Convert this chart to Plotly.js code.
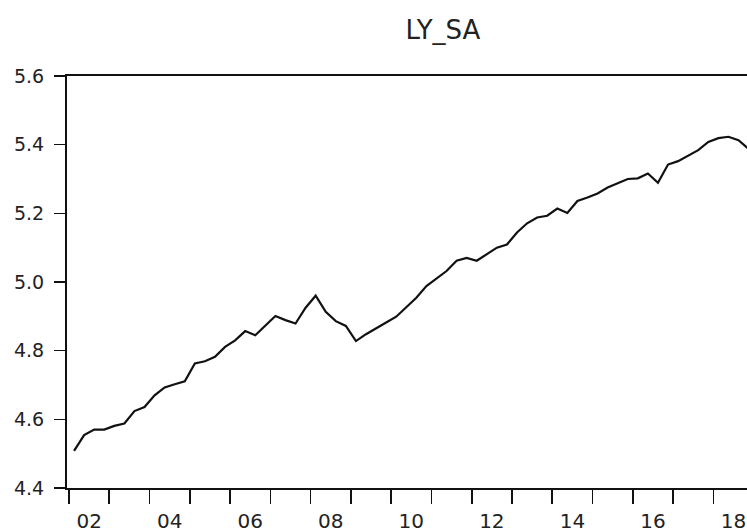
<!DOCTYPE html>
<html>
<head>
<meta charset="utf-8">
<script src="https://cdn.plot.ly/plotly-3.0.1.min.js"></script>
<style>html,body{margin:0;padding:0;background:#fff;}</style>
</head>
<body>
<div id="chart" style="width:747px;height:532px;"></div>
<script>
// Quarterly series LY_SA, 2002Q1 .. 2018Q4
const startYear = 2002;
const ly_sa = [
  4.508, 4.554, 4.570, 4.570,   // 2002
  4.581, 4.588, 4.624, 4.636,   // 2003
  4.670, 4.693, 4.702, 4.711,   // 2004
  4.763, 4.769, 4.782, 4.811,   // 2005
  4.830, 4.857, 4.845, 4.872,   // 2006
  4.901, 4.889, 4.879, 4.925,   // 2007
  4.960, 4.913, 4.886, 4.872,   // 2008
  4.828, 4.848, 4.866, 4.882,   // 2009
  4.899, 4.926, 4.954, 4.988,   // 2010
  5.010, 5.032, 5.062, 5.070,   // 2011
  5.062, 5.080, 5.100, 5.109,   // 2012
  5.144, 5.171, 5.188, 5.193,   // 2013
  5.214, 5.201, 5.236, 5.246,   // 2014
  5.258, 5.275, 5.288, 5.300,   // 2015
  5.302, 5.316, 5.289, 5.342,   // 2016
  5.352, 5.368, 5.384, 5.408,   // 2017
  5.419, 5.423, 5.413, 5.388    // 2018
];
const yearTicks = [2002,2003,2004,2005,2006,2007,2008,2009,2010,2011,2012,2013,2014,2015,2016,2017,2018];
const labelYears = [2002,2004,2006,2008,2010,2012,2014,2016,2018];
const labelText = ['02','04','06','08','10','12','14','16','18'];
const yTicks = [4.4,4.6,4.8,5.0,5.2,5.4,5.6];

// quarter i plotted at the middle of its quarter
const xq = ly_sa.map((_, i) => startYear + (i + 0.5) / 4);
const xRange = [2001.950, 2018.836];

const trace = {
  x: xq, y: ly_sa, type: 'scatter', mode: 'lines',
  line: {color: '#111111', width: 2.2},
  hoverinfo: 'skip', showlegend: false
};
// invisible trace to activate the labels axis
const labelTrace = {
  x: [xRange[0]], y: [4.4], xaxis: 'x2', type: 'scatter', mode: 'markers',
  marker: {opacity: 0}, hoverinfo: 'skip', showlegend: false
};

const textColor = '#222222';
const layout = {
  width: 747, height: 532,
  margin: {l: 67, r: 0, t: 76, b: 44, pad: 0},
  paper_bgcolor: '#ffffff', plot_bgcolor: '#ffffff',
  font: {family: 'DejaVu Sans', color: textColor},
  title: {
    text: 'LY_SA',
    font: {family: 'DejaVu Sans', size: 26, color: textColor},
    x: 413/747, xanchor: 'center', xref: 'paper',
    y: 1 - 39/532, yanchor: 'bottom', yref: 'container'
  },
  xaxis: {
    range: xRange, showgrid: false, zeroline: false,
    showline: true, linecolor: '#111111', linewidth: 2, mirror: true,
    tickmode: 'array', tickvals: yearTicks, showticklabels: false,
    ticks: 'outside', ticklen: 14, tickwidth: 1.6, tickcolor: '#111111'
  },
  xaxis2: {
    range: xRange, overlaying: 'x', side: 'bottom', anchor: 'y',
    showgrid: false, zeroline: false, showline: false,
    tickmode: 'array', tickvals: labelYears.map(y => y + 0.5), ticktext: labelText,
    ticks: '', ticklabelstandoff: 19,
    tickfont: {family: 'DejaVu Sans', size: 20, color: textColor}
  },
  yaxis: {
    range: [4.4, 5.6], showgrid: false, zeroline: false,
    showline: true, linecolor: '#111111', linewidth: 2, mirror: false,
    tickmode: 'array', tickvals: yTicks, tickformat: '.1f',
    ticks: 'outside', ticklen: 11, tickwidth: 1.6, tickcolor: '#111111',
    ticklabelstandoff: 6,
    tickfont: {family: 'DejaVu Sans', size: 19, color: textColor}
  }
};

Plotly.newPlot('chart', [trace, labelTrace], layout, {staticPlot: true, displayModeBar: false});
</script>
</body>
</html>
